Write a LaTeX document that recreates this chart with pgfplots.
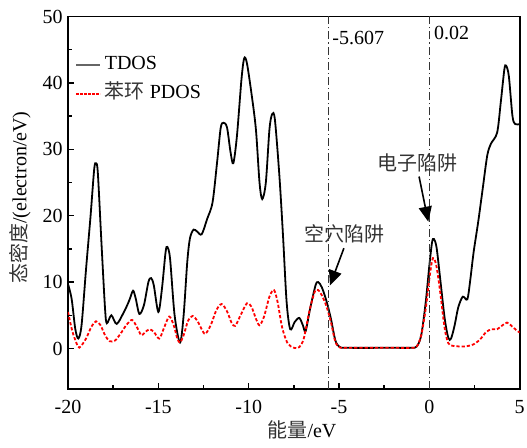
\documentclass[border=0pt]{standalone}
\usepackage{fontspec}
\setmainfont{Liberation Serif}
\newfontfamily\cjk{Noto Sans CJK SC}
\usepackage{pgfplots}
\pgfplotsset{compat=1.18}
\usetikzlibrary{arrows.meta}

\begin{document}
\begin{tikzpicture}[font=\fontsize{10}{12}\selectfont]
\useasboundingbox (-34pt,-29.5pt) rectangle (229.5pt,194.5pt);
\begin{axis}[
 at={(0,0)}, anchor=south west,
 scale only axis, width=225.85pt, height=186.25pt,
 xmin=-20, xmax=5, ymin=-6.1, ymax=50,
 xtick={-20,-15,-10,-5,0,5}, xticklabels={-20,-15,-10,-5,0,5},
 ytick={0,10,20,30,40,50}, yticklabels={0,10,20,30,40,50},
 minor x tick num=1, minor y tick num=1,
 tick pos=left, tick align=inside,
 major tick length=3pt, minor tick length=2pt,
 axis line style={line width=0.9pt},
 every tick/.style={line width=0.7pt, black},
 xticklabel style={yshift=-2pt},
 yticklabel style={xshift=0.8pt},
 legend style={at={(axis description cs:0.0155,0.895)}, anchor=north west, draw=none, fill=none, inner sep=0pt, row sep=5.5pt,
   nodes={inner sep=0pt, text height=7pt, text depth=2pt},
   /tikz/every odd column/.append style={column sep=2pt}},
 legend cell align=left,
 legend image code/.code={\draw[#1] (0pt,0pt) -- (12pt,0pt);},
]
\addplot[forget plot, black, line width=0.9pt, smooth, tension=0.5] coordinates {
(-20,9.7) (-19.8,7.5) (-19.6,3.0) (-19.43,1.5) (-19.25,3.5) (-19.0,12) (-18.75,20) (-18.55,27.0) (-18.45,27.9) (-18.35,26.5) (-18.15,16) (-17.95,6) (-17.85,3.8) (-17.6,5.0) (-17.3,3.7) (-16.85,5.8) (-16.6,7.3) (-16.4,8.7) (-16.25,7.5) (-16.05,5.2) (-15.8,6.5) (-15.55,10.0) (-15.4,10.6) (-15.25,9.5) (-15.0,5.5) (-14.8,9) (-14.6,14.5) (-14.5,15.3) (-14.35,13.5) (-14.1,5) (-13.8,0.9) (-13.6,5) (-13.4,13) (-13.25,16.6) (-13.05,17.9) (-12.85,17.6) (-12.6,17.2) (-12.3,19.5) (-12.0,22.0) (-11.75,28) (-11.55,33.2) (-11.4,34.0) (-11.2,33.3) (-11.0,29.5) (-10.85,27.9) (-10.65,32) (-10.4,40.5) (-10.25,43.7) (-10.1,43) (-9.85,38.5) (-9.6,33) (-9.4,25) (-9.25,22.5) (-9.05,25) (-8.85,33) (-8.7,35.3) (-8.55,34.5) (-8.3,26) (-8.1,17) (-7.9,7) (-7.7,2.9) (-7.45,4.0) (-7.2,4.6) (-7.0,3.5) (-6.85,2.6) (-6.6,6) (-6.3,9.5) (-6.15,10.0) (-5.95,9.2) (-5.7,7.2) (-5.45,4.5) (-5.2,1.2) (-4.95,0.2) (-4.5,0.1) (-2,0.1) (-1.0,0.1) (-0.7,0.3) (-0.45,2.0) (-0.2,7.0) (0.0,12.5) (0.15,16.0) (0.25,16.5) (0.4,15.2) (0.6,10.5) (0.85,4.5) (1.05,1.6) (1.2,1.5) (1.4,3.5) (1.6,6.2) (1.85,7.8) (2.1,7.4) (2.25,10) (2.45,14.5) (2.7,19) (2.95,24) (3.2,29) (3.4,30.8) (3.75,32.5) (3.95,37) (4.15,42) (4.25,42.6) (4.4,41) (4.6,35) (4.75,33.8) (5.0,33.8)
};
\addplot[forget plot, red, line width=0.9pt, dash pattern=on 1.6pt off 1pt, smooth, tension=0.5] coordinates {
(-20,5.5) (-19.75,2.5) (-19.45,0.3) (-19.3,0.3) (-19.0,1.5) (-18.7,3.3) (-18.45,4.1) (-18.2,3.5) (-17.95,2.0) (-17.7,1.1) (-17.4,1.2) (-17.1,2.2) (-16.75,3.6) (-16.45,4.3) (-16.2,3.3) (-15.95,2.0) (-15.75,2.4) (-15.5,2.9) (-15.25,2.5) (-14.95,1.5) (-14.7,3.0) (-14.4,4.8) (-14.15,3.5) (-13.95,1.5) (-13.8,0.9) (-13.6,2.0) (-13.35,4.2) (-13.1,4.9) (-12.85,4.2) (-12.6,2.9) (-12.4,2.2) (-12.1,3.5) (-11.8,5.7) (-11.5,6.7) (-11.2,5.6) (-10.95,3.9) (-10.75,3.4) (-10.45,5.0) (-10.1,6.8) (-9.85,6.3) (-9.6,4.5) (-9.4,3.5) (-9.15,4.8) (-8.85,7.8) (-8.6,8.8) (-8.4,7.0) (-8.15,3.2) (-7.85,0.8) (-7.5,0.1) (-7.2,0.2) (-6.95,1.5) (-6.65,5.5) (-6.35,8.5) (-6.15,8.8) (-5.95,8.0) (-5.7,6.4) (-5.45,4.0) (-5.2,1.0) (-4.95,0.15) (-4.5,0.1) (-2,0.1) (-1.0,0.1) (-0.7,0.3) (-0.45,2.0) (-0.2,6.0) (0.0,10.5) (0.15,13.2) (0.25,13.6) (0.4,12.3) (0.6,8.5) (0.85,3.0) (1.05,0.8) (1.3,0.4) (2.0,0.3) (2.5,0.7) (2.85,1.5) (3.15,2.5) (3.45,2.9) (3.75,2.9) (4.05,3.5) (4.3,3.9) (4.55,3.4) (4.8,2.8) (5.0,2.4)
};
\addlegendimage{black!60, line width=0.6pt}
\addlegendentry{TDOS}
\addlegendimage{red, line width=0.7pt, dash pattern=on 1.2pt off 0.8pt}
\addlegendentry{{\cjk\color{black!80}苯环} PDOS}
\addplot[forget plot, black!80, line width=0.5pt, dash pattern=on 4pt off 1.5pt on 0.6pt off 1.5pt] coordinates {(-5.607,-6.1) (-5.607,50)};
\addplot[forget plot, black!80, line width=0.5pt, dash pattern=on 4pt off 1.5pt on 0.6pt off 1.5pt] coordinates {(0.02,-6.1) (0.02,50)};
\node[anchor=west, inner sep=2pt] at (axis cs:-5.607,46.8) {-5.607};
\node[anchor=west, inner sep=2pt] at (axis cs:0.02,47.5) {0.02};
\node[anchor=center, text=black!80] at (axis cs:-0.63,27.9) {\cjk 电子陷阱};
\node[anchor=center, text=black!80] at (axis cs:-4.67,17.3) {\cjk 空穴陷阱};
\draw[line width=0.8pt, -{Triangle[length=7.5pt,width=6.5pt]}] (axis cs:-0.57,25.9) -- (axis cs:-0.06,19.1);
\draw[line width=0.8pt, -{Triangle[length=7.5pt,width=6.5pt]}] (axis cs:-4.73,15.1) -- (axis cs:-5.5,9.5);
\end{axis}
\node[anchor=center] at (117pt,-20.5pt) {{\cjk\color{black!80}能量}/eV};
\node[anchor=center, rotate=90] at (-24pt,95.75pt) {{\cjk\color{black!80}态密度}/(electron/eV)};
\end{tikzpicture}
\end{document}
